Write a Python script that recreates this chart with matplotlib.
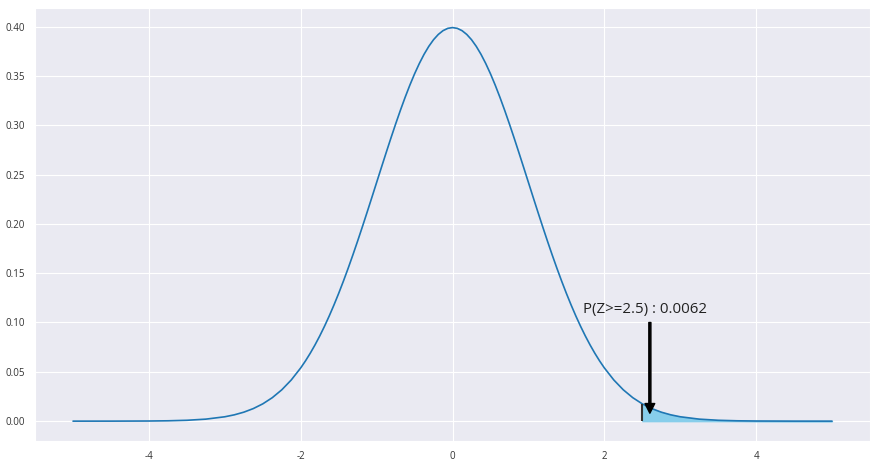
import matplotlib
matplotlib.use("Agg")
from matplotlib import pyplot as plt
import seaborn as sns
import numpy as np

sns.set_style("darkgrid")
plt.rcParams['font.family'] = ['Open Sans', 'DejaVu Sans']
plt.rcParams['axes.unicode_minus'] = False

# standard normal density
z = [-5.0, -4.5, -4.0, -3.75, -3.5, -3.25, -3.0, -2.875, -2.75, -2.625, -2.5,
     -2.375, -2.25, -2.125, -2.0, -1.9375, -1.875, -1.8125, -1.75, -1.6875, -1.625,
     -1.5625, -1.5, -1.4375, -1.375, -1.3125, -1.25, -1.1875, -1.125, -1.0625, -1.0,
     -0.9375, -0.875, -0.8125, -0.75, -0.6875, -0.625, -0.5625, -0.5, -0.4375, -0.375,
     -0.3125, -0.25, -0.1875, -0.125, -0.0625, 0.0,
     0.0625, 0.125, 0.1875, 0.25, 0.3125, 0.375, 0.4375, 0.5, 0.5625, 0.625,
     0.6875, 0.75, 0.8125, 0.875, 0.9375, 1.0, 1.0625, 1.125, 1.1875, 1.25,
     1.3125, 1.375, 1.4375, 1.5, 1.5625, 1.625, 1.6875, 1.75, 1.8125, 1.875,
     1.9375, 2.0, 2.125, 2.25, 2.375, 2.5, 2.625, 2.75, 2.875, 3.0,
     3.25, 3.5, 3.75, 4.0, 4.5, 5.0]
density = [0.0000015, 0.000016, 0.00013, 0.00035, 0.00087, 0.00203, 0.00443, 0.00640, 0.00909, 0.01273, 0.01753,
           0.02377, 0.03174, 0.04172, 0.05399, 0.06106, 0.06879, 0.07719, 0.08628, 0.09607, 0.10654,
           0.11770, 0.12952, 0.14197, 0.15502, 0.16860, 0.18265, 0.19711, 0.21188, 0.22686, 0.24197,
           0.25707, 0.27205, 0.28678, 0.30114, 0.31497, 0.32816, 0.34057, 0.35207, 0.36253, 0.37186,
           0.37993, 0.38667, 0.39199, 0.39584, 0.39816, 0.39894,
           0.39816, 0.39584, 0.39199, 0.38667, 0.37993, 0.37186, 0.36253, 0.35207, 0.34057, 0.32816,
           0.31497, 0.30114, 0.28678, 0.27205, 0.25707, 0.24197, 0.22686, 0.21188, 0.19711, 0.18265,
           0.16860, 0.15502, 0.14197, 0.12952, 0.11770, 0.10654, 0.09607, 0.08628, 0.07719, 0.06879,
           0.06106, 0.05399, 0.04172, 0.03174, 0.02377, 0.01753, 0.01273, 0.00909, 0.00640, 0.00443,
           0.00203, 0.00087, 0.00035, 0.00013, 0.000016, 0.0000015]

z_cut = 2.5
p_tail = 0.0062

z = np.array(z)
density = np.array(density)
tail = z >= z_cut

fig, ax = plt.subplots(figsize=(8.77, 4.65), dpi=100)
ax.plot(z, density, color='#1f77b4', lw=1.2)
ax.fill_between(z[tail], 0, density[tail], color='skyblue')
ax.vlines(z_cut, 0, density[tail][0], color='#333333', lw=1.5)

ax.text(1.72, 0.1135, f'P(Z>={z_cut}) : {p_tail}', fontsize=10.8,
        color='#222222', va='center')
ax.annotate('', xy=(2.6, 0.008), xytext=(2.6, 0.100),
            arrowprops=dict(facecolor='black', edgecolor='black', width=1.5,
                            headwidth=7, headlength=7, shrink=0.0))

ax.set_xticks([-4, -2, 0, 2, 4])
ax.set_yticks(np.arange(0, 0.41, 0.05))
ax.set_yticklabels([f'{v:.2f}' for v in np.arange(0, 0.41, 0.05)])
ax.tick_params(labelsize=7, colors='#333333')

fig.subplots_adjust(left=0.04, right=0.992, top=0.983, bottom=0.052)
plt.savefig('out.png')
